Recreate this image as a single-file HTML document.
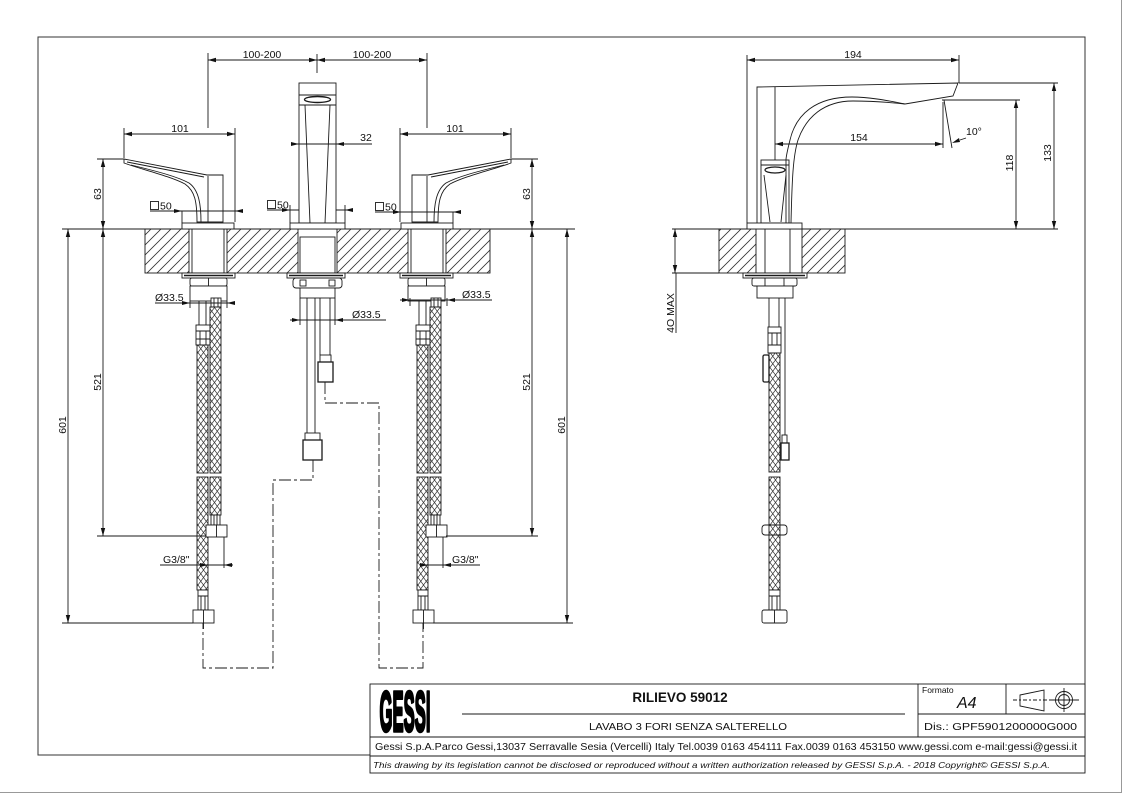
<!DOCTYPE html>
<html><head><meta charset="utf-8"><style>
html,body{margin:0;padding:0;background:#fff;}
svg{display:block;}
text{font-family:"Liberation Sans",Arial,sans-serif;fill:#111;stroke:none;}
</style></head><body>
<svg width="1123" height="794" viewBox="0 0 1123 794" xmlns="http://www.w3.org/2000/svg">
<defs>
<pattern id="h" patternUnits="userSpaceOnUse" width="10" height="10"><path d="M-1,11 L11,-1 M-6,6 L6,-6 M4,16 L16,4" stroke="#333" stroke-width="0.8" fill="none"/></pattern>
<pattern id="br" patternUnits="userSpaceOnUse" width="5.5" height="7.5"><path d="M0,0 L5.5,7.5 M5.5,0 L0,7.5" stroke="#333" stroke-width="0.7" fill="none"/></pattern>
<marker id="a" viewBox="0 0 8 6" refX="8" refY="3" markerWidth="8" markerHeight="6" markerUnits="userSpaceOnUse" orient="auto-start-reverse"><path d="M0,0.8 L8,3 L0,5.2 Z" fill="#111"/></marker>
</defs>

<!-- page edge -->
<path d="M0,792.5 H1121.5 V0" fill="none" stroke="#999" stroke-width="1"/>
<!-- frame -->
<rect x="38" y="37" width="1047" height="718" fill="none" stroke="#333" stroke-width="1"/>

<g fill="none" stroke="#1a1a1a" stroke-width="0.9">
<!-- counter surface lines -->
<path d="M62,229 H575 M672,229 H1058"/>

<!-- FRONT slab -->
<rect x="145" y="229" width="345" height="44" fill="url(#h)"/>
<rect x="189" y="229" width="38" height="44" fill="#fff"/>
<path d="M192,229 V273 M224,229 V273"/>
<rect x="298" y="229" width="39" height="44" fill="#fff"/>
<rect x="300" y="237" width="35" height="36"/>
<rect x="408" y="229" width="38" height="44" fill="#fff"/>
<path d="M411,229 V273 M443,229 V273"/>

<!-- LEFT valve top (mirrored for right) -->
<g id="vt">
<rect x="182" y="223" width="52" height="6" fill="#fff"/>
<path d="M124,159 L207,175 L223,175 L223,222 L197,222 C197,202 195,191 185,184 C170,176 140,169 124,163 Z" fill="#fff"/>
<path d="M131,165 C160,172 178,177 189,183 C199,190 201,205 201,222"/>
<path d="M127,162 L204,177"/>
<path d="M208,176 V222"/>
<!-- 101 dim -->
<path d="M124,134 H235" marker-start="url(#a)" marker-end="url(#a)"/>
<path d="M124,128 V158 M235,128 V222"/>
<!-- 63 dim -->
<path d="M103,159 V229" marker-start="url(#a)" marker-end="url(#a)"/>
<path d="M97,159 H124"/>
<!-- 521 / 601 -->
<path d="M103,229 V536" marker-start="url(#a)" marker-end="url(#a)"/>
<path d="M68,229 V623" marker-start="url(#a)" marker-end="url(#a)"/>
<!-- valve under counter -->
<rect x="182" y="273" width="53" height="5" fill="#fff"/>
<path d="M184,275.5 H233" stroke-width="1.6"/>
<rect x="190" y="278" width="37" height="8" rx="2" fill="#fff"/>
<path d="M208.5,278 V286"/>
<rect x="190" y="286" width="37" height="15" fill="#fff"/>
</g>
<use href="#vt" transform="translate(635,0) scale(-1,1)"/>

<!-- □50 dims -->
<path d="M150,211 H243 M182,211 V223"/>
<polygon points="182,211 174,209 174,213" fill="#111" stroke="none"/>
<polygon points="235,211 243,209 243,213" fill="#111" stroke="none"/>
<path d="M375,212 H460 M453,212 V223"/>
<polygon points="401,212 393,210 393,214" fill="#111" stroke="none"/>
<polygon points="453,212 461,210 461,214" fill="#111" stroke="none"/>
<path d="M267,210 H352 M290,205 V223 M345,205 V223"/>
<polygon points="290,210 282,208 282,212" fill="#111" stroke="none"/>
<polygon points="345,210 353,208 353,212" fill="#111" stroke="none"/>

<!-- 100-200 -->
<path d="M208,60 H317" marker-start="url(#a)" marker-end="url(#a)"/>
<path d="M317,60 H427" marker-start="url(#a)" marker-end="url(#a)"/>
<path d="M208,53 V128 M427,53 V128 M317,54 V73"/>

<!-- CENTER spout -->
<rect x="299" y="83" width="37" height="140" fill="#fff"/>
<path d="M299,95 H336 M299,105 H336"/>
<ellipse cx="317.5" cy="99.5" rx="13" ry="3" stroke-width="1.4"/>
<path d="M305,105 L310,223 M330,105 L325,223"/>
<rect x="290" y="223" width="55" height="6" fill="#fff"/>
<!-- 32 -->
<path d="M292,144 H372"/>
<polygon points="299,144 291,142 291,146" fill="#111" stroke="none"/>
<polygon points="336,144 344,142 344,146" fill="#111" stroke="none"/>
<!-- center under counter -->
<rect x="287" y="273" width="58" height="5" fill="#fff"/>
<path d="M289,275.5 H343" stroke-width="1.6"/>
<rect x="293" y="278" width="49" height="10" rx="3" fill="#fff"/>
<rect x="300" y="280" width="6" height="6"/><rect x="329" y="280" width="6" height="6"/>
<rect x="300" y="288" width="35" height="10" fill="#fff"/>
<path d="M307,298 V433 M315,298 V433"/>
<path d="M320,298 V355 M330,298 V355"/>
<rect x="320" y="355" width="11" height="7" fill="#fff"/>
<rect x="318" y="362" width="15" height="20" fill="#fff" stroke-width="1.3"/>
<rect x="305" y="433" width="15" height="7" fill="#fff"/>
<rect x="303" y="440" width="19" height="20" fill="#fff" stroke-width="1.3"/>
<!-- center Ø33.5 -->
<path d="M290,320 H386 M300,298 V325 M335,298 V325"/>
<polygon points="300,320 292,318 292,322" fill="#111" stroke="none"/>
<polygon points="335,320 343,318 343,322" fill="#111" stroke="none"/>

<!-- dash-dot connections -->
<path d="M325,382 V403 H379 V668 H423 V623" stroke-dasharray="12 3 3 3"/>
<path d="M313,460 V480 H273 V668 H203 V623" stroke-dasharray="12 3 3 3"/>

<!-- HOSES left (translated for right) -->
<g id="hs">
<path d="M199,301 V325 M206,301 V325"/>
<rect x="196" y="325" width="14" height="20" fill="#fff"/>
<path d="M196,331 H210 M196,339 H210 M200,331 V345 M206,331 V345"/>
<rect x="197" y="345" width="11" height="128" fill="url(#br)"/>
<rect x="197" y="477" width="11" height="113" fill="url(#br)"/>
<rect x="198" y="590" width="10" height="20" fill="#fff"/>
<path d="M198,596 H208 M201,596 V610 M205,596 V610"/>
<rect x="193" y="610" width="21" height="13" fill="#fff"/>
<path d="M203.5,610 V623 M203.5,623 V629"/>
<rect x="211" y="298" width="10" height="9" fill="#fff"/>
<path d="M214,298 V307 M218,298 V307"/>
<rect x="210" y="307" width="11" height="166" fill="url(#br)"/>
<rect x="210" y="477" width="11" height="38" fill="url(#br)"/>
<rect x="211" y="515" width="9" height="10" fill="#fff"/>
<path d="M214,515 V525 M217,515 V525"/>
<rect x="206" y="525" width="21" height="12" fill="#fff"/>
<path d="M216.5,525 V537"/>
</g>
<use href="#hs" transform="translate(220,0)"/>

<!-- left Ø33.5, G3/8 -->
<path d="M155,303 H233 M190,301 V308 M227,301 V308"/>
<polygon points="190,303 182,301 182,305" fill="#111" stroke="none"/>
<polygon points="227,303 235,301 235,305" fill="#111" stroke="none"/>
<path d="M160,565 H233 M224,537 V568"/>
<polygon points="208,565 200,563 200,567" fill="#111" stroke="none"/>
<polygon points="224,565 232,563 232,567" fill="#111" stroke="none"/>
<!-- right Ø33.5, G3/8 -->
<path d="M400,300 H492 M410,298 V306 M447,298 V306"/>
<polygon points="410,300 402,298 402,302" fill="#111" stroke="none"/>
<polygon points="447,300 455,298 455,302" fill="#111" stroke="none"/>
<path d="M420,565 H480 M443,537 V568"/>
<polygon points="428,565 420,563 420,567" fill="#111" stroke="none"/>
<polygon points="443,565 451,563 451,567" fill="#111" stroke="none"/>

<!-- ext lines lower -->
<path d="M97,536 H206 M446,536 H538 M62,623 H193 M433,623 H573"/>

<!-- RIGHT SIDE VIEW -->
<rect x="719" y="229" width="126" height="44" fill="url(#h)"/>
<rect x="756" y="229" width="46" height="44" fill="#fff"/>
<path d="M765,229 V273 M790,229 V273"/>
<path d="M747,55 V223 M959,55 V83"/>
<path d="M747,60 H959" marker-start="url(#a)" marker-end="url(#a)"/>
<path d="M757,223 V87 L958,83 L953,96 L905,104"/>
<path d="M905,104 C885,100 868,97 852,97 C816,97 796,114 790,140 C787,152 786,158 786,160"/>
<path d="M905,104 C886,102 870,101 853,101 C824,101 806,117 798,140 C793,156 792,180 791,223"/>
<path d="M775,87 V160"/>
<rect x="761" y="160" width="28" height="63" fill="#fff"/>
<path d="M761,165 H789"/>
<ellipse cx="775" cy="170" rx="10" ry="3" stroke-width="1.2"/>
<path d="M764,175 L770,222 M786,175 L781,222"/>
<path d="M786,160 V223"/>
<rect x="747" y="223" width="55" height="6" fill="#fff"/>
<!-- 154 -->
<path d="M775,144 H943" marker-start="url(#a)" marker-end="url(#a)"/>
<path d="M943,102 V148 M944,100 L952,148"/>
<path d="M966,138 L960,140"/>
<polygon points="952,143 959,138 960,142" fill="#111" stroke="none"/>
<!-- 118 / 133 -->
<path d="M942,100 H1020 M959,83 H1058"/>
<path d="M1016,100 V229" marker-start="url(#a)" marker-end="url(#a)"/>
<path d="M1054,83 V229" marker-start="url(#a)" marker-end="url(#a)"/>
<!-- 4O MAX -->
<path d="M675,229 V273" marker-start="url(#a)" marker-end="url(#a)"/>
<path d="M672,273 H719 M676,273 V333"/>
<!-- under counter right view -->
<rect x="743" y="273" width="64" height="5" fill="#fff"/>
<path d="M745,275.5 H805" stroke-width="1.6"/>
<rect x="752" y="278" width="45" height="8" rx="2" fill="#fff"/>
<path d="M765,278 V286 M784,278 V286"/>
<rect x="757" y="286" width="36" height="12" fill="#fff"/>
<path d="M769,298 V327 M779,298 V327"/>
<path d="M785,298 V435"/>
<rect x="768" y="327" width="13" height="26" fill="#fff"/>
<path d="M768,333 H781 M768,345 H781 M772,333 V345 M777,333 V345"/>
<rect x="769" y="353" width="11" height="119" fill="url(#br)"/>
<rect x="769" y="477" width="11" height="113" fill="url(#br)"/>
<rect x="763" y="355" width="6" height="27" rx="1.5" fill="#fff" stroke-width="1.3"/>
<rect x="782" y="435" width="5" height="8" fill="#fff"/>
<rect x="781" y="443" width="8" height="17" fill="#fff" stroke-width="1.3"/>
<rect x="762" y="525" width="25" height="10" rx="3" fill="#fff"/>
<rect x="769" y="525" width="11" height="10" fill="url(#br)"/>
<rect x="769" y="590" width="11" height="20" fill="#fff"/>
<path d="M769,596 H780 M772,596 V610 M777,596 V610"/>
<rect x="762" y="610" width="25" height="13" rx="2" fill="#fff"/>
<path d="M774.5,610 V623"/>

<!-- TITLE BLOCK -->
<rect x="370" y="684" width="715" height="89" fill="#fff"/>
<path d="M370,737 H1085 M370,756 H1085 M918,684 V737 M1006,684 V714 M918,714 H1085 M462,714 H905"/>
<!-- projection symbol -->
<path d="M1013,700 H1050" stroke-dasharray="4 2 2 2"/>
<path d="M1020,695 L1044,690 V711 L1020,706 Z"/>
<circle cx="1064" cy="700" r="8.5"/>
<circle cx="1064" cy="700" r="5.5"/>
<path d="M1050,700 H1079 M1064,688 V712"/>
</g>

<!-- TEXT -->
<g font-size="10.5">
<text x="262" y="58" text-anchor="middle">100-200</text>
<text x="372" y="58" text-anchor="middle">100-200</text>
<text x="180" y="132" text-anchor="middle">101</text>
<text x="455" y="132" text-anchor="middle">101</text>
<text x="366" y="141" text-anchor="middle">32</text>
<text transform="translate(101,194) rotate(-90)" text-anchor="middle">63</text>
<text transform="translate(530,194) rotate(-90)" text-anchor="middle">63</text>
<text transform="translate(101,382) rotate(-90)" text-anchor="middle">521</text>
<text transform="translate(66,425) rotate(-90)" text-anchor="middle">601</text>
<text transform="translate(530,382) rotate(-90)" text-anchor="middle">521</text>
<text transform="translate(565,425) rotate(-90)" text-anchor="middle">601</text>
<text x="160" y="209.5">50</text>
<text x="277" y="208.5">50</text>
<text x="385" y="210.5">50</text>
<text x="155" y="301">Ø33.5</text>
<text x="352" y="318">Ø33.5</text>
<text x="462" y="298">Ø33.5</text>
<text x="163" y="563">G3/8"</text>
<text x="452" y="563">G3/8"</text>
<text x="853" y="58" text-anchor="middle">194</text>
<text x="859" y="141" text-anchor="middle">154</text>
<text x="966" y="135">10°</text>
<text transform="translate(1013,163) rotate(-90)" text-anchor="middle">118</text>
<text transform="translate(1051,153) rotate(-90)" text-anchor="middle">133</text>
<text transform="translate(674,313) rotate(-90)" text-anchor="middle">4O MAX</text>
</g>
<g fill="none" stroke="#1a1a1a" stroke-width="0.9">
<rect x="150.5" y="201.5" width="8" height="8"/>
<rect x="267.5" y="200.5" width="8" height="8"/>
<rect x="375.5" y="202.5" width="8" height="8"/>
</g>

<!-- title texts -->
<text x="405" y="731" font-size="57" font-weight="bold" text-anchor="middle" textLength="51" lengthAdjust="spacingAndGlyphs" style="font-family:'Liberation Sans Narrow','Liberation Sans',sans-serif;stroke:#000;stroke-width:3.5;stroke-linejoin:round;fill:#000">GESSI</text>
<text x="680" y="702" font-size="13.5" font-weight="bold" text-anchor="middle">RILIEVO 59012</text>
<text x="688" y="730" font-size="10" text-anchor="middle" textLength="198" lengthAdjust="spacingAndGlyphs">LAVABO 3 FORI SENZA SALTERELLO</text>
<text x="922" y="693" font-size="8.5">Formato</text>
<text x="957" y="708" font-size="16" font-style="italic">A4</text>
<text x="924" y="730" font-size="10.5" textLength="153" lengthAdjust="spacingAndGlyphs">Dis.: GPF5901200000G000</text>
<text x="375" y="750" font-size="9.8" textLength="702" lengthAdjust="spacingAndGlyphs">Gessi S.p.A.Parco Gessi,13037 Serravalle Sesia (Vercelli) Italy Tel.0039 0163 454111 Fax.0039 0163 453150 www.gessi.com e-mail:gessi@gessi.it</text>
<text x="373" y="768" font-size="8.5" font-style="italic" textLength="677" lengthAdjust="spacingAndGlyphs">This drawing by its legislation cannot be disclosed or reproduced without a written authorization released by GESSI S.p.A. - 2018 Copyright© GESSI S.p.A.</text>
</svg>
</body></html>
